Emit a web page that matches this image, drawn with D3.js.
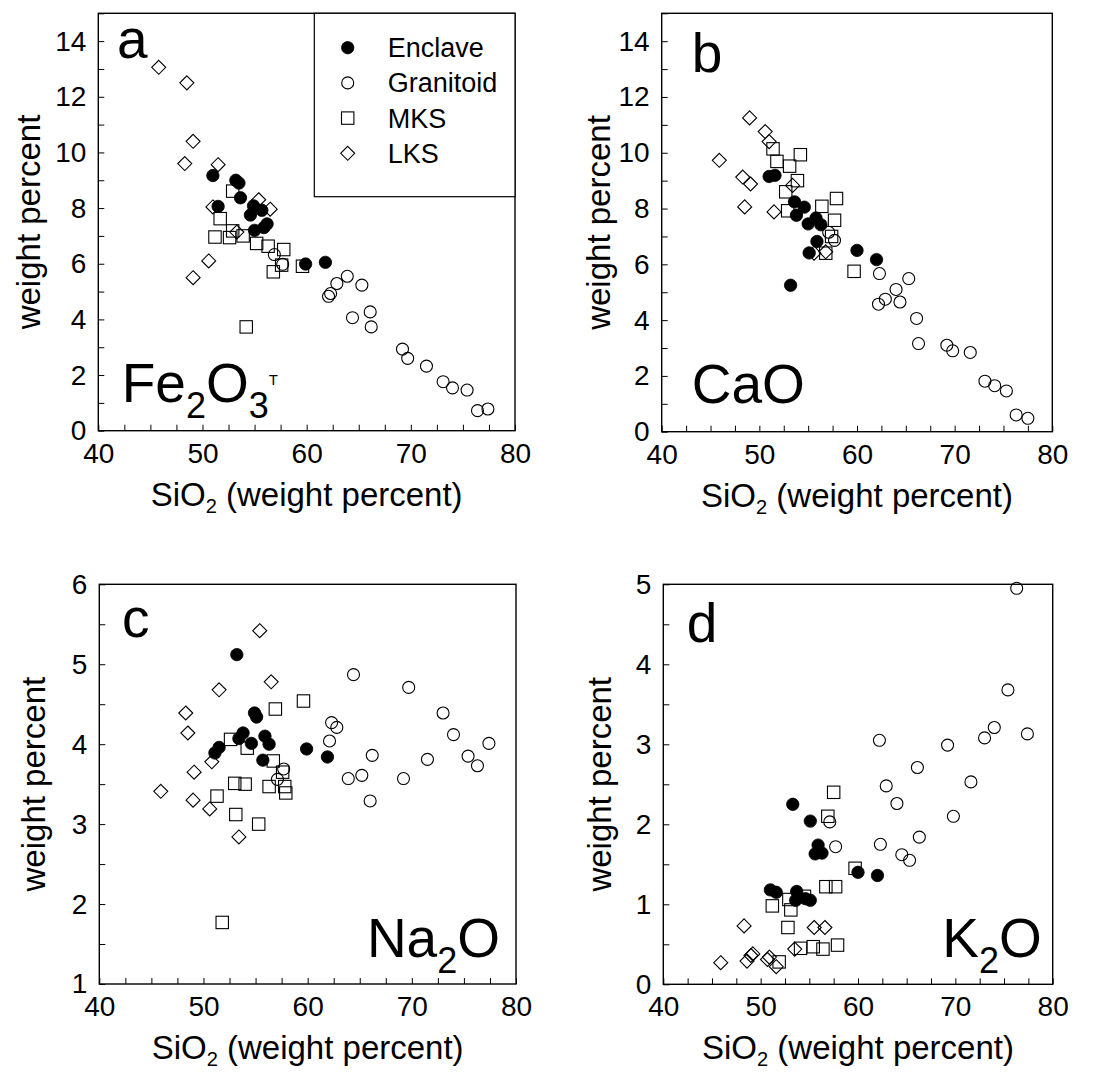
<!DOCTYPE html>
<html lang="en">
<head>
<meta charset="UTF-8">
<title>Harker diagrams</title>
<script src="https://d3js.org/d3.v7.min.js"></script>
<style>
  body { margin: 0; background: #fff; }
  svg { font-family: "Liberation Sans", Arial, sans-serif; }
</style>
</head>
<body>
<script>

// [SiO2, oxide] pairs, one array per panel and rock group

// a: Fe2O3T
var feEnclave = [[51.0,9.17],[51.5,8.06],[53.2,9.0],[53.5,8.9],[53.65,8.37],[54.6,7.75],[54.9,8.08],
                 [55.7,7.92],[55.0,7.2],[55.9,7.3],[56.2,7.43],[59.9,5.99],[61.8,6.05]];
var feGranitoid = [[56.9,6.33],[57.7,5.98],[62.1,4.83],[62.3,4.93],[62.9,5.29],[63.9,5.55],[65.3,5.23],
                   [64.4,4.06],[66.1,4.27],[66.2,3.73],[69.2,2.93],[69.7,2.6],[71.5,2.32],[73.1,1.76],
                   [74.0,1.54],[75.4,1.46],[76.4,0.72],[77.4,0.78]];
var feMKS = [[52.9,8.61],[51.7,7.62],[51.2,6.96],[52.6,6.94],[52.9,7.18],[53.9,7.0],[55.2,6.73],
             [56.3,6.63],[57.8,6.51],[56.8,5.71],[57.6,5.95],[59.6,5.91],[54.2,3.73]];
var feLKS = [[45.8,13.06],[48.5,12.5],[49.1,10.4],[48.3,9.6],[51.5,9.56],[51.0,8.04],[53.3,7.14],
             [55.4,8.3],[56.5,7.96],[50.6,6.1],[49.1,5.5]];

// b: CaO
var caEnclave = [[51.0,9.15],[51.6,9.19],[53.6,8.24],[53.8,7.76],[54.6,8.05],[55.0,7.45],[55.8,7.66],
                 [56.3,7.42],[55.9,6.82],[55.1,6.41],[60.0,6.5],[62.0,6.17],[53.2,5.25]];
var caGranitoid = [[57.1,7.15],[57.7,6.86],[62.3,5.67],[62.2,4.57],[62.9,4.75],[64.0,5.1],[64.4,4.65],
                   [65.3,5.49],[66.1,4.06],[66.3,3.16],[69.2,3.1],[69.8,2.9],[71.6,2.84],[73.1,1.81],
                   [74.1,1.65],[75.3,1.46],[76.3,0.6],[77.5,0.48]];
var caMKS = [[51.4,10.14],[51.8,9.69],[53.1,9.52],[54.2,9.93],[53.9,9.0],[52.7,8.6],[52.9,7.92],
             [56.4,8.08],[57.9,8.36],[57.7,7.58],[57.4,7.0],[56.8,6.4],[59.7,5.75]];
var caLKS = [[49.0,11.25],[50.6,10.76],[51.0,10.4],[45.9,9.73],[48.3,9.13],[49.1,8.88],[48.5,8.06],
             [51.5,7.88],[53.4,8.83],[55.6,6.4],[56.8,6.45]];

// c: Na2O
var naEnclave = [[53.2,5.12],[54.9,4.39],[55.1,4.34],[53.8,4.14],[53.4,4.07],[54.6,4.01],[55.9,4.10],
                 [56.3,4.0],[51.5,3.96],[51.1,3.89],[55.7,3.80],[59.9,3.94],[61.9,3.84]];
var naGranitoid = [[64.4,4.87],[69.7,4.71],[73.0,4.39],[74.0,4.12],[77.4,4.01],[62.3,4.27],[62.8,4.21],
                   [62.1,4.04],[66.2,3.86],[71.5,3.81],[75.4,3.85],[76.3,3.73],[63.9,3.57],[65.2,3.61],
                   [69.2,3.57],[66.0,3.29],[57.7,3.69],[57.1,3.56]];
var naMKS = [[59.6,4.54],[56.9,4.44],[52.6,4.06],[54.2,3.95],[56.7,3.79],[57.6,3.65],[53.0,3.51],
             [54.0,3.50],[56.3,3.47],[57.8,3.47],[57.9,3.39],[51.3,3.35],[53.1,3.12],[55.3,3.0],[51.8,1.77]];
var naLKS = [[55.4,5.42],[56.5,4.78],[51.5,4.68],[48.3,4.39],[48.5,4.14],[50.8,3.78],[49.1,3.65],
             [45.9,3.41],[49.0,3.30],[50.6,3.19],[53.4,2.84]];

// d: K2O
var kEnclave = [[53.3,2.25],[55.1,2.04],[55.9,1.74],[55.6,1.63],[56.3,1.64],[60.0,1.40],[62.0,1.36],
                [51.0,1.18],[51.6,1.15],[53.7,1.16],[53.6,1.05],[54.6,1.07],[55.1,1.05]];
var kGranitoid = [[76.3,4.95],[75.4,3.68],[74.0,3.21],[73.0,3.08],[77.4,3.13],[62.2,3.05],[69.2,2.99],
                  [66.1,2.71],[71.6,2.53],[62.9,2.48],[64.0,2.26],[69.8,2.10],[57.1,2.03],[57.7,1.72],
                  [62.3,1.75],[66.3,1.84],[64.5,1.62],[65.3,1.55]];
var kMKS = [[57.5,2.40],[56.9,2.10],[59.7,1.45],[56.7,1.22],[57.7,1.22],[51.2,0.98],[52.9,1.06],
            [53.1,0.93],[54.5,1.10],[52.8,0.71],[54.1,0.45],[55.4,0.47],[56.4,0.44],[57.9,0.49],[51.9,0.28]];
var kLKS = [[48.3,0.73],[55.5,0.71],[56.6,0.71],[45.9,0.27],[48.6,0.29],[49.2,0.38],[50.7,0.31],
            [50.9,0.34],[51.6,0.22],[53.5,0.44],[49.0,0.36]];

var groups = ["Enclave", "Granitoid", "MKS", "LKS"];
var drawOrder = ["MKS", "Granitoid", "LKS", "Enclave"];
var xTickValues = d3.range(40, 80.01, 2.5);

var width = 1109, height = 1087;

var svg = d3.select("body").append("svg")
    .attr("width", width)
    .attr("height", height);

// panel frames and label spots
var panels = [
    {letter: "a", box: [98.3, 13.3, 515, 430.7], y: [0, 15], yTicks: d3.range(0, 15.01, 1), step: 2,
     sets: {Enclave: feEnclave, Granitoid: feGranitoid, MKS: feMKS, LKS: feLKS},
     letterPos: [117, 58], titleGap: 58,
     name: [["Fe", 0], ["2", 1], ["O", 0], ["3", 1], ["T", 2]], namePos: [121.7, 401.7], anchor: "start",
     legend: true},
    {letter: "b", box: [661.7, 13.3, 1052.3, 431.7], y: [0, 15], yTicks: d3.range(0, 15.01, 1), step: 2,
     sets: {Enclave: caEnclave, Granitoid: caGranitoid, MKS: caMKS, LKS: caLKS},
     letterPos: [691.7, 71.7], titleGap: 52,
     name: [["CaO", 0]], namePos: [691.7, 403], anchor: "start"},
    {letter: "c", box: [99.3, 584.3, 516, 984], y: [1, 6], yTicks: d3.range(1, 6.01, 0.5), step: 1,
     sets: {Enclave: naEnclave, Granitoid: naGranitoid, MKS: naMKS, LKS: naLKS},
     letterPos: [122, 636.7], titleGap: 54,
     name: [["Na", 0], ["2", 1], ["O", 0]], namePos: [500, 957], anchor: "end"},
    {letter: "d", box: [663.3, 584.3, 1052.7, 984.3], y: [0, 5], yTicks: d3.range(0, 5.01, 0.5), step: 1,
     sets: {Enclave: kEnclave, Granitoid: kGranitoid, MKS: kMKS, LKS: kLKS},
     letterPos: [686.7, 641.7], titleGap: 52,
     name: [["K", 0], ["2", 1], ["O", 0]], namePos: [1041.7, 957], anchor: "end"}
];

function marker(g, group, cx, cy) {
    if (group === "Enclave") {
        g.append("circle").attr("cx", cx).attr("cy", cy).attr("r", 6.2)
            .attr("fill", "#000").attr("stroke", "#000").attr("stroke-width", 0.8);
    } else if (group === "Granitoid") {
        g.append("circle").attr("cx", cx).attr("cy", cy).attr("r", 6)
            .attr("fill", "none").attr("stroke", "#000").attr("stroke-width", 1.1);
    } else if (group === "MKS") {
        g.append("rect").attr("x", cx - 6.2).attr("y", cy - 6.2).attr("width", 12.4).attr("height", 12.4)
            .attr("fill", "none").attr("stroke", "#000").attr("stroke-width", 1.1);
    } else {
        g.append("path")
            .attr("d", "M" + cx + "," + (cy - 7) + "L" + (cx + 7) + "," + cy + "L" + cx + "," + (cy + 7) + "L" + (cx - 7) + "," + cy + "Z")
            .attr("fill", "none").attr("stroke", "#000").attr("stroke-width", 1.1);
    }
}

panels.forEach(function (p) {
    var x0 = p.box[0], y0 = p.box[1], x1 = p.box[2], y1 = p.box[3];
    var x = d3.scaleLinear().domain([40, 80]).range([x0, x1]);
    var y = d3.scaleLinear().domain(p.y).range([y1, y0]);
    var g = svg.append("g");

    // axes, ticks pointing inward
    var xAxis = d3.axisBottom(x).tickValues(xTickValues).tickSize(-6).tickPadding(12)
        .tickFormat(function (v) { return v % 10 === 0 ? v : ""; });
    var gx = g.append("g").attr("transform", "translate(0," + y1 + ")").call(xAxis);

    var yAxis = d3.axisLeft(y).tickValues(p.yTicks).tickSize(-6).tickPadding(12)
        .tickFormat(function (v) { return Math.abs(v / p.step - Math.round(v / p.step)) < 1e-6 ? v : ""; });
    var gy = g.append("g").attr("transform", "translate(" + x0 + ",0)").call(yAxis);

    [gx, gy].forEach(function (a) {
        a.select(".domain").remove();
        a.selectAll("line").attr("stroke", "#000").attr("stroke-width", 1);
        a.selectAll("text").attr("font-size", 28).attr("fill", "#000")
            .style("font-family", "'Liberation Sans', Arial, sans-serif");
    });

    g.append("rect")
        .attr("x", x0).attr("y", y0).attr("width", x1 - x0).attr("height", y1 - y0)
        .attr("fill", "none").attr("stroke", "#000").attr("stroke-width", 1.4);

    // points
    var pts = g.append("g");
    drawOrder.forEach(function (grp) {
        p.sets[grp].forEach(function (d) {
            marker(pts, grp, x(d[0]), y(d[1]));
        });
    });

    // panel letter
    g.append("text").attr("x", p.letterPos[0]).attr("y", p.letterPos[1])
        .attr("font-size", 55).text(p.letter);

    // oxide name with sub/superscripts
    var t = g.append("text").attr("x", p.namePos[0]).attr("y", p.namePos[1])
        .attr("text-anchor", p.anchor);
    var level = 0;
    p.name.forEach(function (part) {
        var s = t.append("tspan").text(part[0]);
        var target = part[1] === 1 ? 16 : part[1] === 2 ? -17 : 0;
        if (target !== level) s.attr("dy", target - level);
        level = target;
        s.attr("font-size", part[1] === 0 ? 55 : part[1] === 1 ? 36 : 15);
    });

    // y title
    g.append("text")
        .attr("transform", "translate(" + (x0 - p.titleGap) + "," + ((y0 + y1) / 2) + ") rotate(-90)")
        .attr("text-anchor", "middle")
        .attr("font-size", 33)
        .text("weight percent");

    // x title
    var xt = g.append("text")
        .attr("x", (x0 + x1) / 2).attr("y", y1 + 75)
        .attr("text-anchor", "middle")
        .attr("font-size", 33);
    xt.append("tspan").text("SiO");
    xt.append("tspan").attr("font-size", 20).attr("dy", 7).text("2");
    xt.append("tspan").attr("dy", -7).text(" (weight percent)");

    if (p.legend) {
        var lg = g.append("g");
        lg.append("rect")
            .attr("x", 314.3).attr("y", y0).attr("width", x1 - 314.3).attr("height", 196.7 - y0)
            .attr("fill", "#fff").attr("stroke", "#000").attr("stroke-width", 1.2);
        var rowY = d3.scalePoint().domain(groups).range([47.7, 153.3]);
        groups.forEach(function (grp) {
            marker(lg, grp, 347.7, rowY(grp));
            lg.append("text").attr("x", 387.7).attr("y", rowY(grp)).attr("dy", "0.35em")
                .attr("font-size", 27).text(grp);
        });
    }
});

</script>
</body>
</html>
